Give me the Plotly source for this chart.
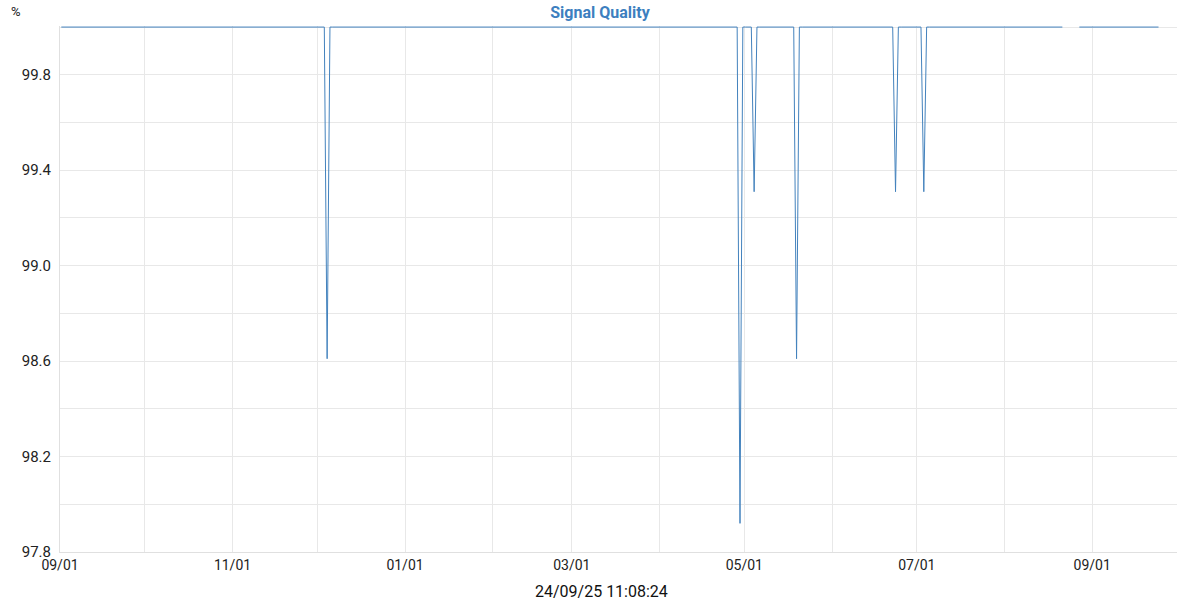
import pandas as pd
import plotly.graph_objects as go

# ---- data ----
start_time = "2024-09-01 11:08:24"
end_time = "2025-09-24 11:08:24"
baseline = 100.0
dip_dates = ["2024-12-04", "2025-04-29", "2025-05-04", "2025-05-19", "2025-06-23", "2025-07-03"]
dip_values = [98.61, 97.92, 99.31, 98.61, 99.31, 99.31]
gap_start = "2025-08-22"
gap_end = "2025-08-26"
y_ticks = [97.8, 98.2, 98.6, 99.0, 99.4, 99.8]
x_tick_dates = ["2024-09-01", "2024-11-01", "2025-01-01", "2025-03-01", "2025-05-01", "2025-07-01", "2025-09-01"]
x_tick_labels = ["09/01", "11/01", "01/01", "03/01", "05/01", "07/01", "09/01"]
title_text = "Signal Quality"
stamp_text = "24/09/25 11:08:24"
unit_text = "%"

times = pd.date_range(start_time, end_time, freq="D")
vals = pd.Series(baseline, index=times, dtype=float)
day = vals.index.normalize()
for d, v in zip(dip_dates, dip_values):
    vals[day == pd.Timestamp(d)] = v
vals[(day >= pd.Timestamp(gap_start)) & (day <= pd.Timestamp(gap_end))] = None

fig = go.Figure()
fig.add_trace(go.Scatter(
    x=vals.index, y=vals.values, mode="lines",
    line=dict(color="#4382bd", width=1),
    connectgaps=False, hoverinfo="x+y", showlegend=False,
))

fig.update_layout(
    width=1200, height=600,
    margin=dict(l=60, r=23, t=26, b=48),
    paper_bgcolor="white", plot_bgcolor="white",
    font=dict(family="Roboto", size=14, color="#222"),
    title=dict(text="<b>" + title_text + "</b>", x=0.5, xanchor="center", y=0.98, yanchor="middle",
               font=dict(family="Roboto", size=16, color="#3d7fbf")),
    showlegend=False,
)
fig.update_xaxes(
    range=["2024-09-01", "2025-10-01"],
    tickmode="array", tickvals=x_tick_dates, ticktext=x_tick_labels,
    showgrid=True, gridcolor="#e8e8e8", gridwidth=1,
    minor=dict(showgrid=True, gridcolor="#e8e8e8", dtick="M1", tick0="2024-09-01"),
    zeroline=False, showline=True, linecolor="#e0e0e0",
    ticks="", tickfont=dict(size=14, color="#222"),
)
fig.update_yaxes(
    range=[97.8, 100.0045],
    tickmode="array", tickvals=y_ticks, ticktext=[f"{t:.1f}" for t in y_ticks],
    showgrid=True, gridcolor="#e8e8e8", gridwidth=1,
    minor=dict(showgrid=True, gridcolor="#e8e8e8", dtick=0.2, tick0=97.8),
    zeroline=False, showline=True, linecolor="#e0e0e0",
    ticks="", tickfont=dict(size=15, color="#222"), ticklabelstandoff=5,
)
fig.add_annotation(text=unit_text, xref="paper", yref="paper", x=-0.039, y=1.0,
                   yshift=15, showarrow=False, xanchor="center", yanchor="middle",
                   font=dict(size=13, color="#222"))
fig.add_annotation(text=stamp_text, xref="paper", yref="paper", x=0.485, y=0,
                   yshift=-39, showarrow=False, xanchor="center", yanchor="middle",
                   font=dict(size=16, color="#111"))

fig.write_html("out.html", config={"displayModeBar": False},
               post_script="document.body.style.margin='0';document.body.style.padding='0';")
